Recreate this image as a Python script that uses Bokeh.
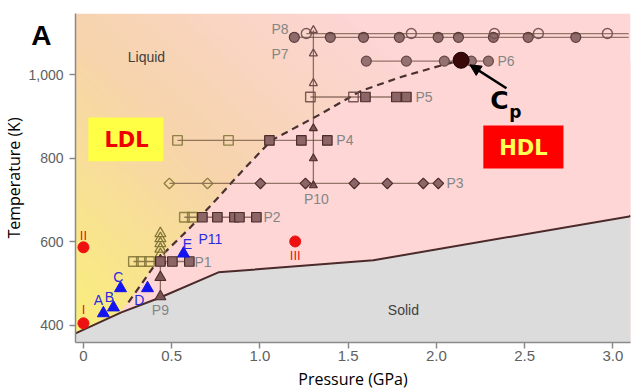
import numpy as np
from bokeh.plotting import figure
from bokeh.models import Range1d, FixedTicker, Label, Arrow, NormalHead
from bokeh.core.properties import value
from bokeh.embed import file_html
from bokeh.resources import INLINE

# ---------------- axes ----------------
X0, X1 = -0.045, 3.10
Y0, Y1 = 359, 1147
x_ticks = [0, 0.5, 1, 1.5, 2, 2.5, 3]
x_tick_labels = ["0", "0.5", "1.0", "1.5", "2.0", "2.5", "3.0"]
y_ticks = [400, 600, 800, 1000]
y_tick_labels = ["400", "600", "800", "1,000"]

# ---------------- phase boundaries ----------------
melt_P = [-0.045, 0.215, 0.425, 0.765, 1.643, 3.093, 3.10]
melt_T = [381, 431, 465, 527, 556, 661, 663]
llt_P = [0.20, 0.255, 0.44, 0.60, 0.765, 0.90, 1.065, 1.33, 1.575, 1.80, 2.03, 2.14]
llt_T = [429, 455, 566, 632, 707, 770, 843, 903, 962, 995, 1023, 1035]

# ---------------- measurement paths ----------------
p1_P = [0.283, 0.328, 0.374, 0.436, 0.504, 0.600]
p1_T = 553
p1_open = [True, True, True, False, False, False]

p2_P = [0.572, 0.617, 0.674, 0.759, 0.855, 0.884, 0.980]
p2_T = 659
p2_open = [True, True, False, False, False, False, False]

p3_P = [0.487, 0.703, 1.003, 1.258, 1.535, 1.722, 1.926, 2.011]
p3_T = 740
p3_open = [True, True, False, False, False, False, False, False]

p4_P = [0.533, 0.822, 1.054, 1.235, 1.382]
p4_T = 843
p4_open = [True, True, False, False, False]

p5_P = [1.286, 1.530, 1.598, 1.773, 1.830]
p5_T = 947
p5_open = [True, True, False, False, False]

p6_P = [1.603, 1.830, 2.045, 2.198, 2.295]
p6_T = 1033

p7_P = [1.195, 1.399, 1.587, 1.790, 2.010, 2.125, 2.323, 2.520, 2.790]
p7_T = 1090
p8_P = [1.263, 1.858, 2.329, 2.578, 2.969]
p8_T = 1099
p78_end = 3.09

p9_P = 0.436
p9_T = [469, 515, 555, 570, 583, 596, 608, 620]
p9_open = [False, False, False, True, True, True, True, True]

p10_P = 1.303
p10_T = [735, 800, 872, 980, 1051, 1107]
p10_open = [False, False, False, True, True, True]

cp_P, cp_T = 2.14, 1035

# P11 / blue points
blue_P = [0.113, 0.170, 0.210, 0.363, 0.567]
blue_T = [429, 443, 489, 489, 572]
blue_lab = ["A", "B", "C", "D", "E"]
blue_lab_P = [0.085, 0.147, 0.198, 0.317, 0.589]
blue_lab_T = [460, 467, 517, 460, 596]

# red points
red_P = [0.0, 0.0, 1.2]
red_T = [405, 587, 601]
red_lab = ["I", "II", "III"]
red_lab_T = [437, 616, 568]

# path labels
plab_left = ["P1", "P2", "P3", "P4", "P5", "P6", "P7", "P8"]
plab_left_P = [0.629, 1.02, 2.057, 1.433, 1.881, 2.346, 1.065, 1.065]
plab_left_T = [553, 659, 740, 843, 947, 1033, 1050, 1111]
plab_mid = ["P9", "P10"]
plab_mid_P = [0.436, 1.32]
plab_mid_T = [436, 702]

# ---------------- figure ----------------
p = figure(frame_width=555, frame_height=329, x_range=Range1d(X0, X1), y_range=Range1d(Y0, Y1),
           output_backend="svg", toolbar_location=None,
           min_border_left=74, min_border_right=8, min_border_top=13, min_border_bottom=49)
p.outline_line_color = None
p.xgrid.visible = False
p.ygrid.visible = False
p.background_fill_color = "white"

# gradient background for the liquid region
nx, ny = 280, 166
gx = np.linspace(X0, X1, nx)
gy = np.linspace(Y0, Y1, ny)
PP, TT = np.meshgrid(gx, gy)
tt = np.clip(0.55 * (TT - 390) / 750 + 0.3 * PP, 0, 1)
stops = [0.0, 0.5, 1.0]
cols = np.array([[250, 238, 125], [247, 212, 172], [253, 214, 213]], dtype=float)
img = np.empty((ny, nx), dtype=np.uint32)
view = img.view(dtype=np.uint8).reshape((ny, nx, 4))
for k in range(3):
    view[:, :, k] = np.interp(tt, stops, cols[:, k]).astype(np.uint8)
view[:, :, 3] = 255
p.image_rgba(image=[img], x=X0, y=Y0, dw=X1 - X0, dh=Y1 - Y0)

PINK = "#fdd6d5"
hdl_x = llt_P + [3.3, 3.3, llt_P[0]]
hdl_y = llt_T + [cp_T, Y0 - 20, Y0 - 20]
p.patch(hdl_x, hdl_y, fill_color=PINK, line_color=None)

p.varea(x=melt_P, y1=[Y0 - 20] * len(melt_P), y2=melt_T, fill_color="#dcdcdc")
p.line(melt_P, melt_T, line_color="#4a2a2a", line_width=2)
p.line(llt_P[1:], llt_T[1:], line_color="#4a3030", line_width=2.2, line_dash="7 5")

# boxes
p.quad(left=[0.028], right=[0.453], bottom=[793], top=[898], fill_color="#ffff45", line_color=None)
p.quad(left=[2.266], right=[2.72], bottom=[776], top=[879], fill_color="#ff0000", line_color=None)

PATH_LINE = "#5a4030"
FILL = "#8c6666"
EDGE = "#4a2a2a"
OLIVE = "#85783a"
BROWN = "#6e4c4c"


def hpath(ps, t, opens, marker, size, open_color, angle=0.0, x_end=None, fill=FILL, edge=EDGE):
    xe = max(ps) if x_end is None else x_end
    p.line([min(ps), xe], [t, t], line_color=PATH_LINE, line_alpha=0.65, line_width=1.3)
    fx = [x for x, o in zip(ps, opens) if not o]
    ox = [x for x, o in zip(ps, opens) if o]
    if ox:
        p.scatter(ox, [t] * len(ox), marker=marker, size=size, angle=angle,
                  fill_color=None, line_color=open_color, line_width=1.4, line_alpha=0.9)
    if fx:
        p.scatter(fx, [t] * len(fx), marker=marker, size=size, angle=angle,
                  fill_color=fill, line_color=edge, line_width=1.2)


def vpath(pv, ts, opens, size, open_color, y_end=None):
    ye = max(ts) if y_end is None else y_end
    p.line([pv, pv], [min(ts), ye], line_color=PATH_LINE, line_alpha=0.7, line_width=1.3)
    ft = [y for y, o in zip(ts, opens) if not o]
    ot = [y for y, o in zip(ts, opens) if o]
    p.scatter([pv] * len(ot), ot, marker="triangle", size=size, fill_color=None,
              line_color=open_color, line_width=1.3)
    p.scatter([pv] * len(ft), ft, marker="triangle", size=size, fill_color="#7a5555",
              line_color=EDGE, line_width=1.1)


vpath(p10_P, p10_T, p10_open, 8, BROWN)
vpath(p9_P, p9_T, p9_open, 11, OLIVE, y_end=p1_T)

hpath(p1_P, p1_T, p1_open, "square", 9.5, OLIVE)
hpath(p2_P, p2_T, p2_open, "square", 9.5, OLIVE)
hpath(p3_P, p3_T, p3_open, "square", 7.5, OLIVE, angle=np.pi / 4)
hpath(p4_P, p4_T, p4_open, "square", 9.5, OLIVE)
hpath(p5_P, p5_T, p5_open, "square", 9.5, BROWN)
hpath(p6_P, p6_T, [False] * len(p6_P), "circle", 10, BROWN, fill="#957272", edge="#6a4848")
hpath(p7_P, p7_T, [False] * len(p7_P), "circle", 10, BROWN, x_end=p78_end, fill="#8e6a6a", edge="#5e3c3c")
hpath(p8_P, p8_T, [True] * len(p8_P), "circle", 10, BROWN, x_end=p78_end)

p.scatter([cp_P], [cp_T], size=16, fill_color="#3a0808", line_color="#1e0000")

p.scatter(blue_P, blue_T, marker="triangle", size=12, fill_color="#1414ee", line_color="#1414ee")
p.scatter(red_P, red_T, size=11, fill_color="#ee1111", line_color="#ee1111")

FONT = value("Liberation Sans")
p.text(plab_left_P, plab_left_T, text=plab_left, text_font=FONT, text_font_size=value("14px"),
       text_color="#858585", text_align="left", text_baseline="middle")
p.text(plab_mid_P, plab_mid_T, text=plab_mid, text_font=FONT, text_font_size=value("14px"),
       text_color="#858585", text_align="center", text_baseline="middle")
p.text([0.652], [606], text=["P11"], text_font=FONT, text_font_size=value("14px"),
       text_color="#2a2ae0", text_align="left", text_baseline="middle")
p.text(blue_lab_P, blue_lab_T, text=blue_lab, text_font=FONT, text_font_size=value("14px"),
       text_color="#2a2ae0", text_align="center", text_baseline="middle")
p.text(red_P, red_lab_T, text=red_lab, text_font=FONT, text_font_size=value("13px"),
       text_color="#ee1111", text_align="center", text_baseline="middle")

p.text([0.357], [1042], text=["Liquid"], text_font=FONT, text_font_size=value("14px"),
       text_color="#404040", text_align="center", text_baseline="middle")
p.text([1.813], [438], text=["Solid"], text_font=FONT, text_font_size=value("14px"),
       text_color="#404040", text_align="center", text_baseline="middle")

BOLD = value("DejaVu Sans")
p.text([0.244], [845], text=["LDL"], text_font=BOLD, text_font_style="bold",
       text_font_size=value("21px"), text_color="#ee0000", text_align="center", text_baseline="middle")
p.text([2.493], [826], text=["HDL"], text_font=BOLD, text_font_style="bold",
       text_font_size=value("21px"), text_color="#ffff55", text_align="center", text_baseline="middle")
p.text([2.357], [939], text=["C"], text_font=BOLD, text_font_style="bold",
       text_font_size=value("25px"), text_color="black", text_align="center", text_baseline="middle")
p.text([2.448], [912], text=["p"], text_font=BOLD, text_font_style="bold",
       text_font_size=value("17px"), text_color="black", text_align="center", text_baseline="middle")

p.add_layout(Arrow(end=NormalHead(size=11, fill_color="black", line_color="black"),
                   x_start=2.397, y_start=968, x_end=2.19, y_end=1024,
                   line_color="black", line_width=2.5))

# panel letter: lives in a side panel so it is not clipped to the frame;
# it is positioned in data units, left of the y axis
p.add_layout(Label(x=-0.238, y=1094, text="A", text_font="Liberation Sans", text_font_style="bold",
                   text_font_size="28px", text_color="black", text_align="center",
                   text_baseline="middle"), "right")

# axes styling
p.axis.axis_line_color = "#8a8a8a"
p.axis.axis_line_width = 1.5
p.axis.major_tick_line_color = "#8a8a8a"
p.axis.major_tick_line_width = 1.5
p.axis.major_tick_out = 6
p.axis.major_tick_in = 0
p.axis.minor_tick_line_color = None
p.axis.major_label_text_color = "#606060"
p.axis.major_label_text_font = "Liberation Sans"
p.axis.axis_label_text_font = "Open Sans"
p.axis.axis_label_text_font_size = "16px"
p.axis.axis_label_text_font_style = "normal"
p.axis.axis_label_text_color = "black"

p.xaxis.major_label_text_font_size = "15px"
p.yaxis.major_label_text_font_size = "14px"
p.xaxis.major_label_standoff = 2
p.xaxis.axis_label_standoff = 4
p.yaxis.major_label_standoff = 6
p.yaxis.axis_label_standoff = 0

p.xaxis.ticker = FixedTicker(ticks=x_ticks)
p.xaxis.major_label_overrides = {t: l for t, l in zip(x_ticks, x_tick_labels)}
p.yaxis.ticker = FixedTicker(ticks=y_ticks)
p.yaxis.major_label_overrides = {t: l for t, l in zip(y_ticks, y_tick_labels)}
p.xaxis.axis_label = "Pressure (GPa)"
p.yaxis.axis_label = "Temperature (K)"

open("out.html", "w").write(file_html(p, INLINE))
